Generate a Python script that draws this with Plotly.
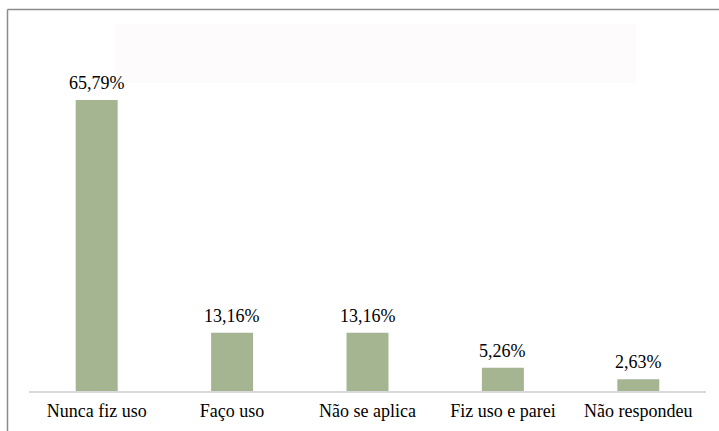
import plotly.graph_objects as go

categories = ["Nunca fiz uso", "Faço uso", "Não se aplica", "Fiz uso e parei", "Não respondeu"]
values = [65.79, 13.16, 13.16, 5.26, 2.63]
labels = ["65,79%", "13,16%", "13,16%", "5,26%", "2,63%"]

W, H = 719, 431
L, R, T, B = 29, 13, 9, 40
pw, ph = W - L - R, H - T - B
SERIF = "Liberation Serif, Times New Roman, Times, serif"

def px_x(x):
    return (x - L) / pw

def px_y(y):
    return (H - B - y) / ph

fig = go.Figure(go.Bar(
    x=categories, y=values,
    marker=dict(color="#a5b592", line=dict(width=0)),
    width=0.31,
    hoverinfo="skip",
))

for c, v, t in zip(categories, values, labels):
    fig.add_annotation(x=c, y=v, text=t, showarrow=False, yanchor="bottom", yshift=5,
                       font=dict(family=SERIF, size=18, color="#000000"))

fig.update_layout(
    width=W, height=H,
    margin=dict(l=L, r=R, t=T, b=B),
    paper_bgcolor="white", plot_bgcolor="white",
    showlegend=False,
    font=dict(family=SERIF, size=18, color="#000000"),
    xaxis=dict(showline=True, linecolor="#d9d9d9", linewidth=1.5, ticks="",
               ticklabelstandoff=3,
               showgrid=False, tickfont=dict(family=SERIF, size=18, color="#000000")),
    yaxis=dict(range=[0, 86.4], visible=False, showgrid=False),
    shapes=[
        dict(type="line", xref="paper", yref="paper", x0=px_x(7.5), x1=px_x(720), y0=px_y(9.5), y1=px_y(9.5),
             line=dict(color="#8c8c8c", width=1.5)),
        dict(type="line", xref="paper", yref="paper", x0=px_x(7.5), x1=px_x(7.5), y0=px_y(9.5), y1=px_y(432),
             line=dict(color="#8c8c8c", width=1.5)),
        dict(type="rect", xref="paper", yref="paper", x0=px_x(115), x1=px_x(636), y0=px_y(83), y1=px_y(24),
             fillcolor="#fefbfc", line=dict(width=0), layer="below"),
    ],
)

fig.write_html("out.html", config={"displayModeBar": False},
               post_script="document.body.style.margin='0';document.body.style.overflow='hidden';")
